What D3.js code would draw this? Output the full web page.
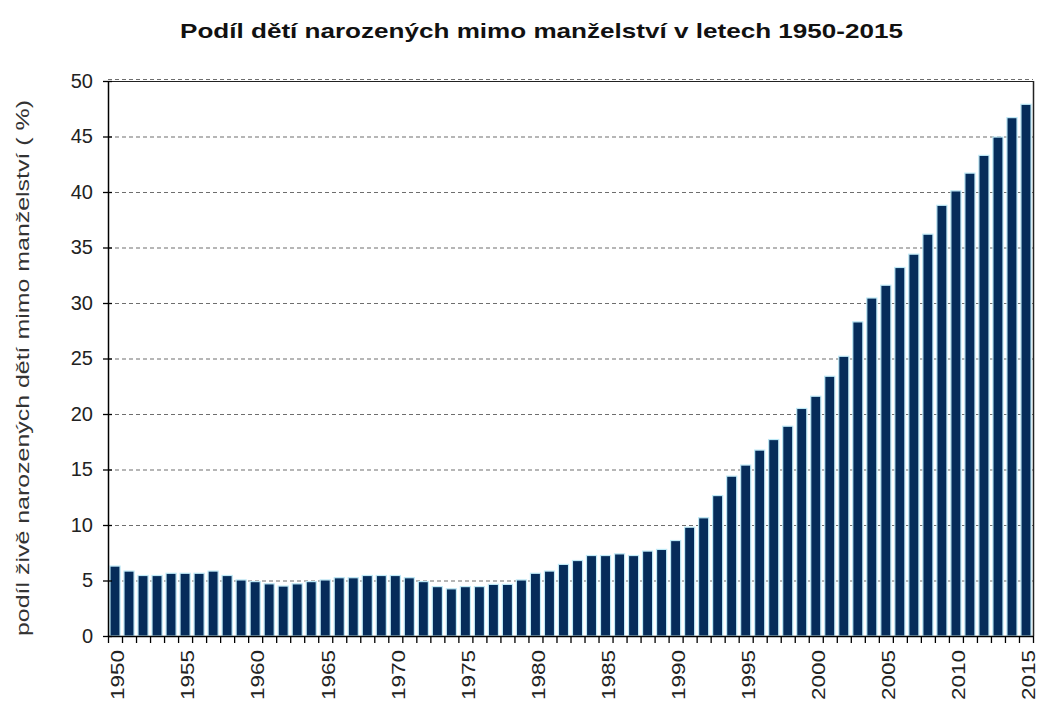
<!DOCTYPE html>
<html><head><meta charset="utf-8">
<script src="https://cdn.jsdelivr.net/npm/d3@7"></script>
<style>body{margin:0;background:#fff;} svg{display:block;}</style>
</head><body>
<svg id="c" width="1040" height="702"></svg>
<script>
const years = d3.range(1950, 2016);
const values = [
  6.3, 5.85, 5.45, 5.45, 5.65, 5.65, 5.65, 5.85, 5.45, 5.05,
  4.9, 4.7, 4.5, 4.7, 4.9, 5.05, 5.25, 5.25, 5.45, 5.45,
  5.45, 5.25, 4.9, 4.45, 4.25, 4.45, 4.45, 4.65, 4.65, 5.05,
  5.65, 5.85, 6.45, 6.8, 7.25, 7.25, 7.4, 7.25, 7.65, 7.8,
  8.6, 9.8, 10.65, 12.65, 14.4, 15.4, 16.75, 17.7, 18.9, 20.5,
  21.6, 23.4, 25.2, 28.3, 30.45, 31.6, 33.2, 34.4, 36.2, 38.8,
  40.1, 41.7, 43.3, 44.95, 46.7, 47.9
];
const yTicks = [0, 5, 10, 15, 20, 25, 30, 35, 40, 45, 50];
const xLabelYears = [1950, 1955, 1960, 1965, 1970, 1975, 1980, 1985, 1990, 1995, 2000, 2005, 2010, 2015];
const title = "Podíl dětí narozených mimo manželství v letech 1950-2015";
const yTitle = "podíl živě narozených dětí mimo manželství ( %)";

const svg = d3.select("#c");
const m = {left: 108, right: 7, top: 81, bottom: 66};
const W = 1040, H = 702;
const x = d3.scaleBand().domain(years).range([m.left, W - m.right]).paddingInner(0.28).paddingOuter(0.14);
const xb = d3.scaleBand().domain(years).range([m.left, W - m.right]);
const y = d3.scaleLinear().domain([0, 50]).range([H - m.bottom, m.top]);

// gridlines
svg.append("g").selectAll("line").data(yTicks.filter(d => d > 0)).join("line")
  .attr("x1", m.left).attr("x2", W - m.right)
  .attr("y1", d => d === 50 ? y(d) - 1.5 : y(d) + 0.5).attr("y2", d => d === 50 ? y(d) - 1.5 : y(d) + 0.5)
  .attr("stroke", "#6e6e6e").attr("stroke-width", 1.2).attr("stroke-dasharray", "4,3");

// bars
svg.append("g").selectAll("rect").data(years).join("rect")
  .attr("x", d => x(d)).attr("width", x.bandwidth())
  .attr("y", (d, i) => y(values[i])).attr("height", (d, i) => y(0) - y(values[i]))
  .attr("fill", "#062c5a").attr("stroke", "#bfe9f6").attr("stroke-width", 1.2);

// frame top/right
svg.append("line").attr("x1", m.left).attr("x2", W - m.right + 0.5).attr("y1", y(50) + 0.5).attr("y2", y(50) + 0.5)
  .attr("stroke", "#222").attr("stroke-width", 1);
svg.append("line").attr("x1", W - m.right + 0.5).attr("x2", W - m.right + 0.5).attr("y1", y(50)).attr("y2", y(0))
  .attr("stroke", "#222").attr("stroke-width", 1.5);

// y axis
const ya = svg.append("g").attr("transform", `translate(${m.left},0)`)
  .call(d3.axisLeft(y).tickValues(yTicks).tickSize(5).tickPadding(10));
ya.select(".domain").attr("stroke", "#000").attr("stroke-width", 1.5).attr("d", `M0.5,${y(50)}V${y(0)}`);
ya.selectAll(".tick line").attr("x1", 4).attr("x2", -5).attr("stroke", "#000").attr("stroke-width", 1.3);
ya.selectAll(".tick text").attr("font-family", "Liberation Sans, Arial, sans-serif").attr("font-size", 20)
  .attr("fill", "#222").attr("x", -15);

// x axis
svg.append("line").attr("x1", m.left).attr("x2", W - m.right).attr("y1", y(0) + 0.5).attr("y2", y(0) + 0.5)
  .attr("stroke", "#000").attr("stroke-width", 1.5);
const bounds = years.map(d => xb(d)).concat([W - m.right]);
svg.append("g").selectAll("line").data(bounds).join("line")
  .attr("x1", d => d + 0.5).attr("x2", d => d + 0.5).attr("y1", y(0)).attr("y2", y(0) + 7)
  .attr("stroke", "#000").attr("stroke-width", 1.3);
svg.append("g").selectAll("text").data(xLabelYears).join("text")
  .attr("transform", d => `translate(${xb(d) + xb.bandwidth() / 2 + 3},700) rotate(-90)`)
  .attr("text-anchor", "start").attr("dy", "0.35em")
  .attr("textLength", 50).attr("lengthAdjust", "spacingAndGlyphs")
  .attr("font-family", "Liberation Sans, Arial, sans-serif").attr("font-size", 18).attr("fill", "#222")
  .text(d => d);

// title
svg.append("text").attr("x", 180).attr("y", 38)
  .attr("textLength", 723).attr("lengthAdjust", "spacingAndGlyphs")
  .attr("font-family", "Liberation Sans, Arial, sans-serif").attr("font-weight", "bold").attr("font-size", 21)
  .attr("fill", "#111").text(title);

// y title
svg.append("text").attr("transform", "translate(29,636) rotate(-90)")
  .attr("text-anchor", "start").attr("textLength", 536).attr("lengthAdjust", "spacingAndGlyphs")
  .attr("font-family", "Liberation Sans, Arial, sans-serif").attr("font-size", 19).attr("fill", "#333")
  .text(yTitle);
</script>
</body></html>
